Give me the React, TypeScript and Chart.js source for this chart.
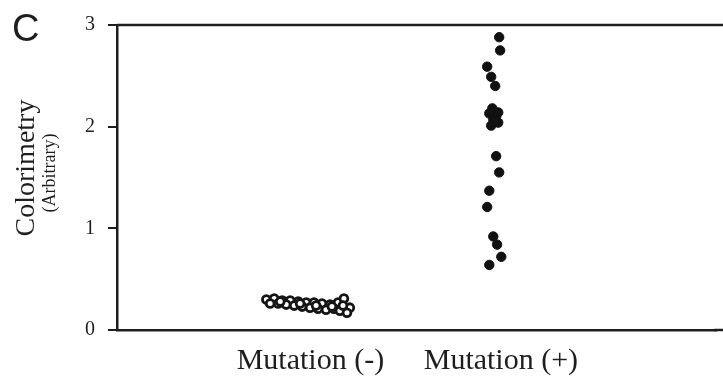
import React, { useEffect, useRef } from "react";
import { Chart, registerables } from "chart.js";

Chart.register(...registerables);

const categories = ["Mutation (-)", "Mutation (+)"];
const yTicks = [0, 1, 2, 3];

// Mutation (-) group: horizontal jitter offsets and colorimetry values
const negOffsets = [
  -0.231, -0.19, -0.148, -0.106, -0.064, -0.022, 0.019, 0.061, 0.103, 0.145, 0.176, 0.207,
  -0.211, -0.169, -0.127, -0.085, -0.043, -0.002, 0.04, 0.082, 0.124, 0.155, 0.192,
  -0.158, -0.054, 0.03, 0.113, 0.171,
];
const negValues = [
  0.3, 0.31, 0.29, 0.29, 0.28, 0.27, 0.27, 0.26, 0.25, 0.27, 0.31, 0.22,
  0.26, 0.26, 0.25, 0.24, 0.23, 0.22, 0.21, 0.2, 0.21, 0.19, 0.17,
  0.28, 0.26, 0.24, 0.23, 0.24,
];

// Mutation (+) group
const posOffsets = [-0.009, -0.004, -0.072, -0.051, -0.03, -0.045, -0.061, -0.025, -0.04, -0.014, -0.014, -0.051, -0.025, -0.009, -0.061, -0.072, -0.04, -0.02, 0.002, -0.061];
const posValues = [2.88, 2.75, 2.59, 2.49, 2.4, 2.18, 2.13, 2.1, 2.07, 2.04, 2.14, 2.01, 1.71, 1.55, 1.37, 1.21, 0.92, 0.84, 0.72, 0.64];

const INK = "#1e1e1e";
const SERIF = '"Liberation Serif", "Times New Roman", serif';

const decorPlugin = {
  id: "decor",
  afterDraw(chart: any) {
    const { ctx, chartArea } = chart;
    ctx.save();
    ctx.strokeStyle = INK;
    ctx.lineWidth = 2.5;
    ctx.beginPath();
    ctx.moveTo(chartArea.left, chartArea.top);
    ctx.lineTo(723, chartArea.top);
    ctx.moveTo(chartArea.right - 2, chartArea.bottom);
    ctx.lineTo(723, chartArea.bottom);
    ctx.stroke();
    ctx.fillStyle = INK;
    ctx.font = '38px "Liberation Sans", Arial, sans-serif';
    ctx.textAlign = "left";
    ctx.textBaseline = "alphabetic";
    ctx.fillText("C", 12, 41);
    ctx.translate(27, 168);
    ctx.rotate(-Math.PI / 2);
    ctx.textAlign = "center";
    ctx.textBaseline = "middle";
    ctx.font = "28px " + SERIF;
    ctx.fillText("Colorimetry", 0, 0);
    ctx.font = "18px " + SERIF;
    ctx.fillText("(Arbitrary)", -5, 23);
    ctx.restore();
  },
};

export default function App() {
  const ref = useRef<HTMLCanvasElement | null>(null);
  useEffect(() => {
    const negData = negOffsets.map((o, i) => ({ x: 1 + o, y: negValues[i] }));
    const posData = posOffsets.map((o, i) => ({ x: 2 + o, y: posValues[i] }));
    const chart = new Chart(ref.current as HTMLCanvasElement, {
      type: "scatter",
      data: {
        datasets: [
          {
            label: categories[0],
            data: negData,
            pointRadius: 3.9,
            pointBorderWidth: 2.8,
            pointBackgroundColor: "#ffffff",
            pointBorderColor: "#151515",
          },
          {
            label: categories[1],
            data: posData,
            pointRadius: 4.7,
            pointBorderWidth: 1,
            pointBackgroundColor: "#111111",
            pointBorderColor: "#111111",
          },
        ],
      },
      options: {
        animation: false,
        responsive: false,
        layout: { padding: { top: 20, right: 0, left: 0, bottom: 0 } },
        plugins: { legend: { display: false }, tooltip: { enabled: false } },
        scales: {
          x: {
            type: "linear",
            min: -0.015,
            max: 3.13,
            afterBuildTicks: (s: any) => {
              s.ticks = [{ value: 1 }, { value: 2 }];
            },
            afterFit: (s: any) => {
              s.height = 54;
            },
            grid: { display: false, drawTicks: false },
            border: { display: true, color: INK, width: 2.5 },
            ticks: {
              autoSkip: false,
              maxRotation: 0,
              padding: 13,
              color: INK,
              font: { family: SERIF, size: 30 },
              callback: (v: any) => categories[Math.round(v) - 1] ?? "",
            },
          },
          y: {
            min: 0,
            max: 3,
            afterBuildTicks: (s: any) => {
              s.ticks = yTicks.map((v) => ({ value: v }));
            },
            afterFit: (s: any) => {
              s.width = 117;
            },
            grid: { display: true, drawOnChartArea: false, drawTicks: true, tickLength: 9, color: INK, lineWidth: 2 },
            border: { display: true, color: INK, width: 2.5 },
            ticks: {
              padding: 13,
              color: INK,
              font: { family: SERIF, size: 20 },
            },
          },
        },
      },
      plugins: [decorPlugin],
    });
    return () => chart.destroy();
  }, []);
  return (
    <div style={{ position: "fixed", left: 0, top: 0, width: 723, height: 384, background: "#fff" }}>
      <canvas ref={ref} width={723} height={384} style={{ display: "block" }} />
    </div>
  );
}
